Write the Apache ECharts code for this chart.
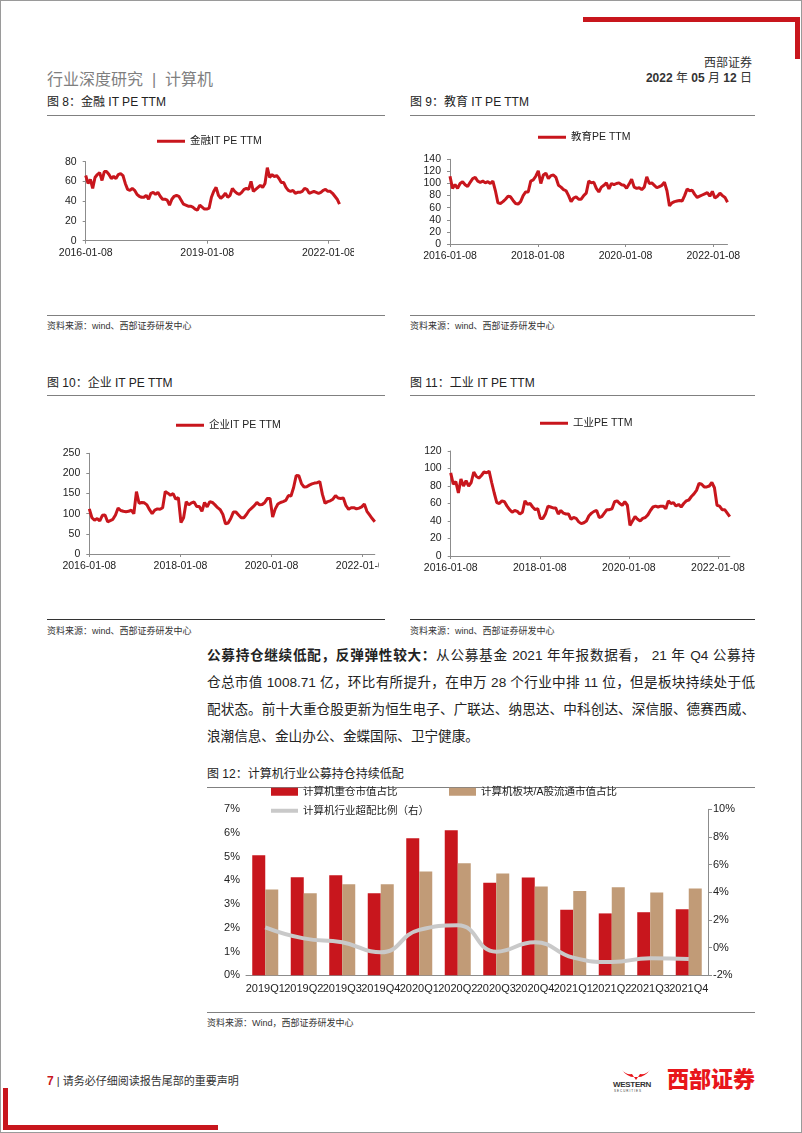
<!DOCTYPE html>
<html>
<head>
<meta charset="utf-8">
<script src="https://cdn.jsdelivr.net/npm/echarts@6/dist/echarts.min.js"></script>
<style>
  body { margin: 0; background: #fff; }
  #page { position: relative; width: 802px; height: 1133px; overflow: hidden; background: #fff;
    font-family: 'Liberation Sans', 'Noto Sans CJK SC', sans-serif; color: #222; }
  #frame { position: absolute; left: 0; top: 0; width: 802px; height: 1133px; box-sizing: border-box; border: 1px solid #9a9a9a; }
  .t { position: absolute; white-space: nowrap; }
  .bar { position: absolute; background: #c8161d; }
  .rule { position: absolute; height: 1px; background: #808080; }
  .title { font-size: 12px; line-height: 14px; color: #222; font-family: 'Liberation Sans Narrow', 'Liberation Sans', 'Noto Sans CJK SC', sans-serif; }
  .src { font-size: 9px; line-height: 11px; color: #333; }
  .chart { position: absolute; }
  .para { position: absolute; left: 207px; width: 548px; font-size: 13.6px; line-height: 18px; white-space: nowrap; color: #222; }
  .para.j { text-align: justify; text-align-last: justify; }
</style>
</head>
<body>
<div id="page">
  <!-- header -->
  <div class="bar" style="left:583px;top:17px;width:217px;height:5px"></div>
  <div class="bar" style="left:795px;top:17px;width:5px;height:42px"></div>
  <div class="t" style="right:50px;top:56px;font-size:12px;line-height:14px;color:#333">西部证券</div>
  <div class="t" style="right:50px;top:71px;font-size:12px;line-height:14px;color:#333"><b>2022</b> 年 <b>05</b> 月 <b>12</b> 日</div>
  <div class="t" style="left:47px;top:71px;font-size:16px;line-height:18px;color:#7f7f7f">行业深度研究 &nbsp;|&nbsp; 计算机</div>

  <div class="t title" style="left:47px;top:95px">图 8：金融 IT PE TTM</div>
  <div class="t title" style="left:410px;top:95px">图 9：教育 IT PE TTM</div>
  <div class="rule" style="left:47px;top:115px;width:338px"></div>
  <div class="rule" style="left:410px;top:115px;width:345px"></div>

  <div class="rule" style="left:47px;top:315px;width:338px"></div>
  <div class="rule" style="left:410px;top:315px;width:345px"></div>
  <div class="t src" style="left:47px;top:321px">资料来源：wind、西部证券研发中心</div>
  <div class="t src" style="left:410px;top:321px">资料来源：wind、西部证券研发中心</div>

  <div class="t title" style="left:47px;top:376px">图 10：企业 IT PE TTM</div>
  <div class="t title" style="left:410px;top:376px">图 11：工业 IT PE TTM</div>
  <div class="rule" style="left:47px;top:395px;width:338px"></div>
  <div class="rule" style="left:410px;top:395px;width:345px"></div>

  <div class="rule" style="left:47px;top:619px;width:338px;background:#333"></div>
  <div class="rule" style="left:410px;top:619px;width:345px;background:#333"></div>
  <div class="t src" style="left:47px;top:626px">资料来源：wind、西部证券研发中心</div>
  <div class="t src" style="left:410px;top:626px">资料来源：wind、西部证券研发中心</div>

  <div id="c1" class="chart" style="left:40px;top:125px;width:314px;height:145px"></div>
  <div id="c2" class="chart" style="left:400px;top:120px;width:360px;height:150px"></div>
  <div id="c3" class="chart" style="left:40px;top:400px;width:339px;height:175px"></div>
  <div id="c4" class="chart" style="left:400px;top:400px;width:360px;height:175px"></div>

  <!-- body text -->
  <div class="para j" style="top:647px"><b>公募持仓继续低配，反弹弹性较大：</b>从公募基金 2021 年年报数据看， 21 年 Q4 公募持</div>
  <div class="para j" style="top:674px">仓总市值 1008.71 亿，环比有所提升，在申万 28 个行业中排 11 位，但是板块持续处于低</div>
  <div class="para j" style="top:701px">配状态。前十大重仓股更新为恒生电子、广联达、纳思达、中科创达、深信服、德赛西威、</div>
  <div class="para" style="top:728px">浪潮信息、金山办公、金蝶国际、卫宁健康。</div>

  <div class="t title" style="left:207px;top:767px">图 12：计算机行业公募持仓持续低配</div>
  <div class="rule" style="left:207px;top:787px;width:548px"></div>
  <div id="c5" class="chart" style="left:200px;top:780px;width:560px;height:220px"></div>
  <div class="rule" style="left:207px;top:1012px;width:548px"></div>
  <div class="t src" style="left:207px;top:1018px">资料来源：Wind，西部证券研发中心</div>

  <!-- footer -->
  <div class="t" style="left:47px;top:1074px;font-size:11px;line-height:14px;color:#333"><b style="color:#c8161d;font-size:12px">7</b> | 请务必仔细阅读报告尾部的重要声明</div>
  <svg style="position:absolute;left:620px;top:1069px" width="32" height="12" viewBox="0 0 32 12">
    <path d="M2 1 Q8 9 16 8 Q24 9 30 1 Q26 6 20 5 L16 11 L12 5 Q6 6 2 1 Z" fill="#e8161b"/>
  </svg>
  <div class="t" style="left:613px;top:1080px;font-size:8px;line-height:9px;font-weight:bold;color:#333;letter-spacing:-0.3px">WESTERN</div>
  <div class="t" style="left:614px;top:1089px;font-size:3px;line-height:4px;color:#333;letter-spacing:1px">SECURITIES</div>
  <div class="t" style="left:667px;top:1068px;font-size:22px;line-height:24px;font-weight:900;color:#e8161b">西部证券</div>
  <div class="bar" style="left:3px;top:1088px;width:5px;height:42px"></div>
  <div class="bar" style="left:3px;top:1125px;width:215px;height:5px"></div>

  <div id="frame"></div>
</div>

<script>
// 时间轴: 2016-01-08 起, 每 21 天一个读数
const START_DATE = '2016-01-08';
const STEP_DAYS = 21;

const financeTicks = ['2016-01-08', '2019-01-08', '2022-01-08'];
const yearTicks = ['2016-01-08', '2018-01-08', '2020-01-08', '2022-01-08'];

// 金融IT PE TTM
const financePE = [
  66, 58, 62, 53, 64, 67, 69, 61, 70, 70,
  67, 63, 65, 63, 67, 68, 66, 58, 52, 51,
  53, 51, 47, 45, 44, 44, 46, 42, 48, 49,
  47, 49, 45, 42, 42, 41, 36, 42, 45, 46,
  45, 41, 37, 36, 35, 35, 34, 32, 31, 36,
  34, 32, 32, 33, 44, 50, 54, 46, 43, 45,
  48, 44, 46, 53, 50, 48, 47, 49, 52, 53,
  52, 60, 50, 52, 54, 56, 54, 58, 74, 64,
  67, 65, 66, 63, 59, 59, 54, 51, 50, 51,
  48, 49, 49, 50, 53, 52, 48, 49, 50, 49,
  48, 49, 51, 52, 50, 50, 48, 45, 42, 37
];

// 教育PE TTM
const eduPE = [
  112, 92, 98, 92, 100, 103, 98, 95, 102, 108,
  110, 104, 102, 104, 101, 103, 100, 104, 88, 68,
  67, 70, 74, 79, 78, 72, 67, 66, 70, 80,
  86, 86, 104, 106, 112, 121, 100, 114, 117, 108,
  113, 114, 110, 97, 94, 90, 88, 80, 70, 76,
  78, 74, 74, 80, 84, 104, 101, 102, 92, 86,
  94, 97, 101, 91, 100, 98, 100, 101, 98, 97,
  92, 99, 107, 94, 92, 93, 90, 94, 111, 100,
  101, 97, 93, 95, 97, 102, 88, 63, 68, 70,
  71, 72, 71, 80, 91, 88, 89, 82, 77, 79,
  81, 83, 85, 79, 87, 76, 79, 84, 80, 77,
  69
];

// 企业IT PE TTM
const enterprisePE = [
  112, 90, 84, 88, 82, 96, 97, 80, 83, 86,
  97, 114, 108, 106, 105, 106, 109, 100, 155, 126,
  128, 127, 122, 110, 100, 109, 112, 111, 115, 155,
  151, 146, 150, 136, 140, 78, 90, 130, 122, 127,
  129, 118, 118, 106, 128, 117, 130, 128, 122, 115,
  110, 98, 75, 77, 88, 104, 104, 97, 90, 90,
  98, 108, 114, 120, 128, 122, 123, 128, 138, 138,
  92, 112, 124, 128, 130, 133, 145, 144, 165, 195,
  194, 175, 166, 167, 171, 174, 176, 177, 180, 148,
  126, 130, 132, 136, 145, 139, 138, 139, 120, 111,
  115, 115, 112, 114, 117, 124, 106, 97, 88, 80
];

// 工业PE TTM
const industryPE = [
  95, 82, 85, 72, 88, 80, 86, 80, 84, 96,
  91, 89, 92, 96, 95, 97, 84, 72, 61, 60,
  63, 62, 57, 53, 50, 52, 51, 48, 50, 63,
  59, 60, 56, 53, 54, 43, 43, 48, 57, 56,
  55, 55, 48, 52, 49, 48, 48, 42, 44, 43,
  39, 37, 38, 40, 46, 49, 51, 52, 44, 45,
  49, 53, 53, 54, 62, 63, 60, 58, 62, 58,
  35, 40, 45, 42, 40, 43, 44, 47, 52, 56,
  57, 56, 57, 57, 54, 63, 60, 61, 57, 59,
  56, 60, 63, 64, 68, 71, 75, 83, 82, 79,
  79, 80, 84, 78, 58, 57, 53, 53, 49, 45
];

// 图12
const quarters = ['2019Q1', '2019Q2', '2019Q3', '2019Q4', '2020Q1', '2020Q2',
  '2020Q3', '2020Q4', '2021Q1', '2021Q2', '2021Q3', '2021Q4'];
const heavyShare = [5.06, 4.13, 4.22, 3.46, 5.78, 6.12, 3.90, 4.12, 2.76, 2.61, 2.66, 2.78];
const sectorShare = [3.62, 3.46, 3.84, 3.84, 4.38, 4.72, 4.29, 3.74, 3.56, 3.71, 3.49, 3.66];
const overweight = [1.47, 0.67, 0.39, -0.34, 1.28, 1.61, -0.29, 0.39, -0.72, -1.04, -0.77, -0.82];

const FONT = "'Liberation Sans', 'Noto Sans CJK SC', sans-serif";
const RED = '#c8161d';
const AXIS = '#8c8c8c';

function dayOf(s) {
  return (Date.parse(s) - Date.parse(START_DATE)) / 86400000;
}
function dateOf(d) {
  return new Date(Date.parse(START_DATE) + Math.round(d) * 86400000).toISOString().slice(0, 10);
}

function peChart(id, o) {
  const chart = echarts.init(document.getElementById(id));
  const ticks = o.ticks.map(dayOf);
  chart.setOption({
    animation: false,
    textStyle: { fontFamily: FONT },
    legend: {
      data: [o.name], left: o.legend[0], top: o.legend[1], padding: 0,
      icon: 'rect', itemWidth: 28, itemHeight: 3, itemGap: 4,
      textStyle: { fontSize: 10.5, color: '#222', fontFamily: FONT }
    },
    grid: { left: o.grid[0], top: o.grid[1], width: o.grid[2], height: o.grid[3], outerBoundsMode: 'none' },
    xAxis: {
      type: 'value', min: 0, max: (o.data.length - 1) * STEP_DAYS,
      splitLine: { show: false },
      axisLine: { lineStyle: { color: AXIS } },
      axisTick: { customValues: ticks, length: 3, lineStyle: { color: AXIS } },
      axisLabel: { customValues: ticks, formatter: dateOf, fontSize: 10.5, color: '#222', margin: 7 }
    },
    yAxis: {
      type: 'value', min: 0, max: o.yMax, interval: o.yStep,
      splitLine: { show: false },
      axisLine: { show: true, lineStyle: { color: AXIS } },
      axisTick: { show: true, length: 3, lineStyle: { color: AXIS } },
      axisLabel: { fontSize: 10.5, color: '#222', margin: 9 }
    },
    series: [{
      name: o.name, type: 'line', symbol: 'none',
      data: o.data.map((v, i) => [i * STEP_DAYS, v]),
      lineStyle: { width: 3, color: RED }, itemStyle: { color: RED }
    }]
  });
}

peChart('c1', { name: '金融IT PE TTM', data: financePE, ticks: financeTicks, yMax: 80, yStep: 20,
  legend: [117, 11], grid: [45.7, 36.7, 253.8, 79] });
peChart('c2', { name: '教育PE TTM', data: eduPE, ticks: yearTicks, yMax: 140, yStep: 20,
  legend: [138, 12], grid: [50, 39.3, 277.5, 84.7] });
peChart('c3', { name: '企业IT PE TTM', data: enterprisePE, ticks: yearTicks, yMax: 250, yStep: 50,
  legend: [136, 20], grid: [49.3, 53.3, 285.5, 100.7] });
peChart('c4', { name: '工业PE TTM', data: industryPE, ticks: yearTicks, yMax: 120, yStep: 20,
  legend: [140, 18], grid: [50.7, 51, 279.1, 105] });

// 图12 柱状 + 折线
const barChart = echarts.init(document.getElementById('c5'));
const legendText = { fontSize: 10.5, color: '#222', fontFamily: FONT };
barChart.setOption({
  animation: false,
  textStyle: { fontFamily: FONT },
  legend: [
    { data: ['计算机重仓市值占比'], left: 71, top: 6.5, padding: 0, icon: 'rect', itemWidth: 27, itemHeight: 8, itemGap: 4, textStyle: legendText },
    { data: ['计算机板块/A股流通市值占比'], left: 249, top: 6.5, padding: 0, icon: 'rect', itemWidth: 27, itemHeight: 8, itemGap: 4, textStyle: legendText },
    { data: ['计算机行业超配比例（右）'], left: 71, top: 25.5, padding: 0, icon: 'rect', itemWidth: 27, itemHeight: 4, itemGap: 4, textStyle: legendText }
  ],
  grid: { left: 46, top: 29.3, width: 462, height: 166, outerBoundsMode: 'none' },
  xAxis: {
    type: 'category', data: quarters,
    axisLine: { lineStyle: { color: AXIS } },
    axisTick: { length: 4, lineStyle: { color: AXIS } },
    axisLabel: { interval: 0, fontSize: 11, color: '#222', margin: 8 }
  },
  yAxis: [
    {
      type: 'value', min: 0, max: 7, interval: 1,
      splitLine: { show: false }, axisLine: { show: false }, axisTick: { show: false },
      axisLabel: { formatter: '{value}%', fontSize: 11, color: '#222', margin: 6 }
    },
    {
      type: 'value', min: -2, max: 10, interval: 2, position: 'right',
      splitLine: { show: false },
      axisLine: { show: true, lineStyle: { color: AXIS } },
      axisTick: { show: true, length: 4, lineStyle: { color: AXIS } },
      axisLabel: { formatter: '{value}%', fontSize: 11, color: '#222', margin: 5 }
    }
  ],
  series: [
    { name: '计算机重仓市值占比', type: 'bar', data: heavyShare, barWidth: 13, barGap: '0%', itemStyle: { color: RED } },
    { name: '计算机板块/A股流通市值占比', type: 'bar', data: sectorShare, barWidth: 13, barGap: '0%', itemStyle: { color: '#c19b77' } },
    { name: '计算机行业超配比例（右）', type: 'line', yAxisIndex: 1, data: overweight, smooth: true, symbol: 'none',
      lineStyle: { width: 4, color: '#c9c9c9' }, itemStyle: { color: '#c9c9c9' } }
  ]
});
</script>
</body>
</html>
